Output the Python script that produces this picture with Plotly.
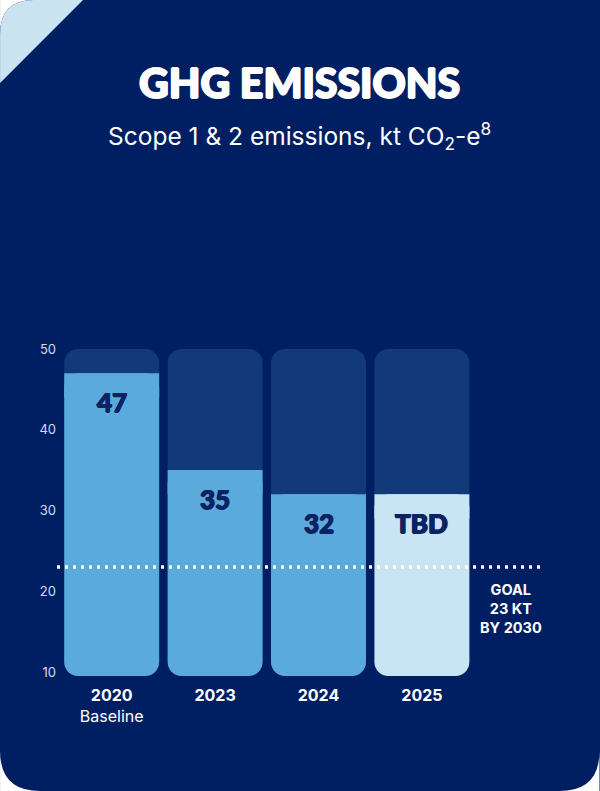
import plotly.graph_objects as go

# ---- data ----
years = ["2020", "2023", "2024", "2025"]
year_labels = ["<b>2020</b><br>Baseline", "<b>2023</b>", "<b>2024</b>", "<b>2025</b>"]
bar_values = [47, 35, 32, 32]          # 2025 drawn at 2024 level (TBD)
value_labels = ["47", "35", "32", "TBD"]
goal_value = 23
axis_max = 50
axis_min = 9.5
y_ticks = [10, 20, 30, 40, 50]

# ---- style ----
NAVY = "#001F63"
BG_BAR = "#133A78"
BAR = "#5BAADC"
TBD = "#C9E4F2"
LABEL_NAVY = "#0B2263"
CORNER = "#C9E3F0"
bar_colors = [BAR, BAR, BAR, TBD]

W, H = 600, 791
L, R, T, B = 60, 22.5, 349, 115
PW, PH = W - L - R, H - T - B


def px(xp):
    return (xp - L) / PW


def py(yp):
    return 1 - (yp - T) / PH


def pt(xp, yp):
    return f"{px(xp):.5f},{py(yp):.5f}"


def corner_mask(cx, cy, dx, dy, r):
    # white area outside a rounded corner at pixel corner (cx, cy)
    return (f"M {pt(cx, cy)} L {pt(cx + dx * r, cy)} "
            f"Q {pt(cx, cy)} {pt(cx, cy + dy * r)} Z")


rad = 40
masks = [
    corner_mask(W, 0, -1, 1, rad),
    corner_mask(0, H, 1, -1, rad),
    corner_mask(W, H, -1, -1, rad),
]
rc = 34
blue_corner = f"M {pt(0, rc)} Q {pt(0, 0)} {pt(rc, 0)} L {pt(83, 0)} L {pt(0, 83)} Z"
white_tl = corner_mask(0, 0, 1, 1, rc)

heavy = "0.7px 0 0 {c}, -0.7px 0 0 {c}, 0 0.5px 0 {c}, 0 -0.5px 0 {c}"

xs = list(range(len(years)))
fig = go.Figure()

# full column (dark), rounded
fig.add_trace(go.Bar(
    x=xs, base=[axis_min] * len(xs), y=[axis_max - axis_min] * len(xs),
    marker=dict(color=BG_BAR, cornerradius=14, line=dict(width=0)),
    hoverinfo="skip",
))
# value part, rounded
fig.add_trace(go.Bar(
    x=xs, base=[axis_min] * len(xs), y=[v - axis_min for v in bar_values],
    marker=dict(color=bar_colors, cornerradius=14, line=dict(width=0)),
    hoverinfo="skip",
))
# flat top edge of the value part
cover = 3
fig.add_trace(go.Bar(
    x=xs, base=[v - cover for v in bar_values], y=[cover] * len(xs),
    marker=dict(color=bar_colors, cornerradius=0, line=dict(width=0)),
    hoverinfo="skip",
))

# value labels
for i, (v, lab) in enumerate(zip(bar_values, value_labels)):
    fig.add_annotation(
        x=i, y=v, xref="x", yref="y", text=lab, showarrow=False,
        yshift=-29, yanchor="middle",
        font=dict(family="Lato", size=26, color=LABEL_NAVY, weight=900,
                  shadow=heavy.format(c=LABEL_NAVY)),
    )

# goal line
fig.add_shape(
    type="line", xref="paper", yref="y", x0=px(57), x1=px(542), y0=goal_value, y1=goal_value,
    line=dict(color="white", width=3, dash="3px,5px"), layer="above",
)
fig.add_annotation(
    x=3.86, y=goal_value, xref="x", yref="y", yanchor="top", yshift=-12,
    text=f"<b>GOAL<br>{goal_value} KT<br>BY 2030</b>", showarrow=False, align="center",
    font=dict(family="Inter", size=14.5, color="white"),
)

# title + subtitle
fig.add_annotation(
    x=px(300), y=py(82), xref="paper", yref="paper", showarrow=False,
    xanchor="center", yanchor="middle",
    text="GHG EMISSIONS",
    font=dict(family="Lato", size=41, color="white", weight=900,
              shadow="1px 0 0 white, -1px 0 0 white, 0 0.6px 0 white, 0 -0.6px 0 white"),
)
fig.add_annotation(
    x=px(300), y=py(136), xref="paper", yref="paper", showarrow=False,
    xanchor="center", yanchor="middle",
    text="Scope 1 &amp; 2 emissions, kt CO<sub>2</sub>-e<sup>8</sup>",
    font=dict(family="Inter", size=24.5, color="white"),
)

shapes = [dict(type="path", path=m, xref="paper", yref="paper", fillcolor="white",
               line=dict(width=0), layer="below") for m in masks + [white_tl]]
shapes.append(dict(type="path", path=blue_corner, xref="paper", yref="paper", fillcolor=CORNER,
                   line=dict(width=0), layer="below"))

fig.update_layout(
    width=W, height=H,
    margin=dict(l=L, r=R, t=T, b=B, pad=0),
    paper_bgcolor=NAVY, plot_bgcolor="rgba(0,0,0,0)",
    barmode="overlay", bargap=0.082, showlegend=False,
    shapes=shapes + list(fig.layout.shapes),
    xaxis=dict(range=[-0.5, 4.5], tickvals=xs, ticktext=year_labels,
               showgrid=False, zeroline=False, showline=False, ticks="",
               ticklabelstandoff=8,
               tickfont=dict(family="Inter", size=16, color="white"), fixedrange=True),
    yaxis=dict(range=[axis_min, axis_max], tickvals=y_ticks, showgrid=False, zeroline=False,
               showline=False, ticks="", ticklabelstandoff=3,
               tickfont=dict(family="Inter", size=13, color="#D6DCEF"),
               fixedrange=True),
)

fig.write_html("out.html")
